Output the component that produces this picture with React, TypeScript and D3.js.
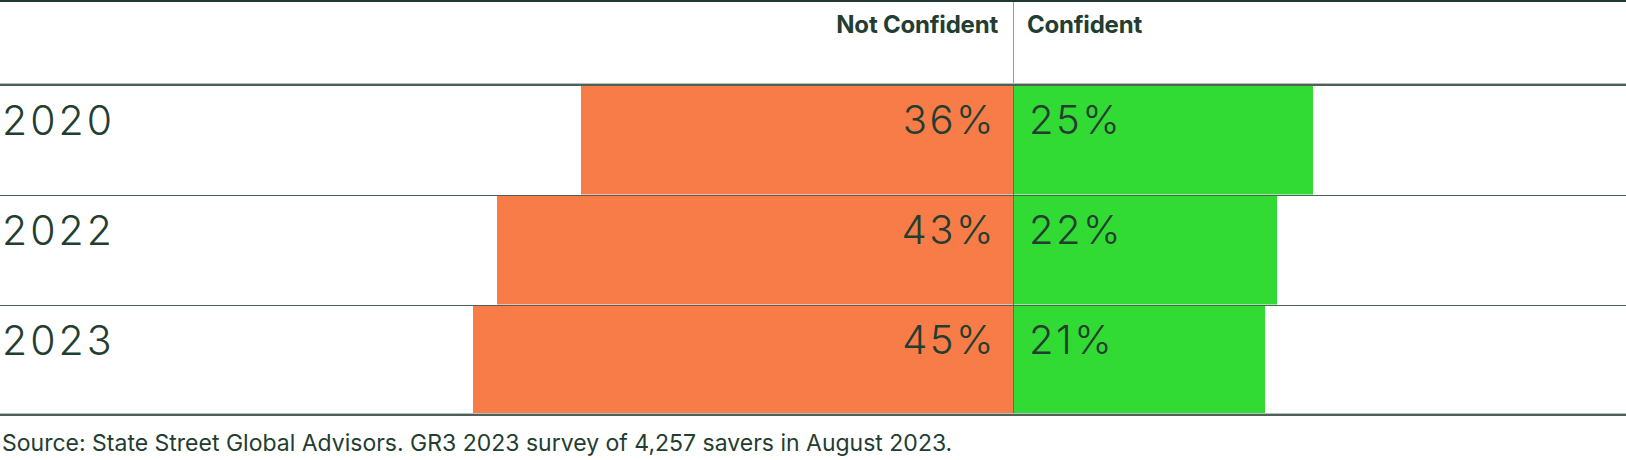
import React from "react";
import * as d3 from "d3";

const years = ["2020", "2022", "2023"];
const notConfident = [36, 43, 45];
const confident = [25, 22, 21];
const headers = ["Not Confident", "Confident"];
const source = "Source: State Street Global Advisors. GR3 2023 survey of 4,257 savers in August 2023.";

const W = 1626;
const H = 460;
const CX = 1013;
const TEXT = "#233d31";
const LINE = "#4d6159";
const ORANGE = "#f87c47";
const GREEN = "#32db33";
const FONT = "Inter, 'Liberation Sans', sans-serif";

export default function App() {
  const x = d3.scaleLinear().domain([0, 100]).range([0, 1200]);
  const y = d3.scaleBand<string>().domain(years).range([84.5, 414.5]).paddingInner(0);
  const bw = y.bandwidth();

  return (
    <svg
      width={W}
      height={H}
      style={{ position: "absolute", left: 0, top: 0, background: "#fff" }}
      fontFamily={FONT}
    >
      {/* top border */}
      <rect x={0} y={0} width={W} height={2} fill="#1f3a2e" />
      {/* header divider */}
      <line x1={CX + 0.5} x2={CX + 0.5} y1={2} y2={84} stroke="#9a9a9a" strokeWidth={1} />
      <text x={CX - 15} y={32.5} textAnchor="end" fontWeight={700} fontSize={24} letterSpacing={-0.2} fill={TEXT}>
        {headers[0]}
      </text>
      <text x={CX + 14} y={32.5} textAnchor="start" fontWeight={700} fontSize={24} letterSpacing={-0.2} fill={TEXT}>
        {headers[1]}
      </text>

      {/* bars */}
      {years.map((yr, i) => {
        const top = y(yr)!;
        return (
          <g key={yr}>
            <rect x={CX - x(notConfident[i])} y={top + 1} width={x(notConfident[i])} height={bw - 1} fill={ORANGE} />
            <rect x={CX} y={top + 1} width={x(confident[i])} height={bw - 1} fill={GREEN} />
            <text x={2} y={top + 50} fontSize={41} fontWeight={300} letterSpacing={3} fill={TEXT}>
              {yr}
            </text>
            <text x={CX - 17} y={top + 49} textAnchor="end" fontSize={40} fontWeight={300} letterSpacing={2.5} fill={TEXT}>
              {notConfident[i]}%
            </text>
            <text x={CX + 16} y={top + 49} textAnchor="start" fontSize={40} fontWeight={300} letterSpacing={2.5} fill={TEXT}>
              {confident[i]}%
            </text>
          </g>
        );
      })}

      {/* divider through bars */}
      <line x1={CX + 0.5} x2={CX + 0.5} y1={85} y2={414} stroke="#5f6e66" strokeWidth={1} />

      {/* header bottom double line */}
      <line x1={0} x2={W} y1={83.5} y2={83.5} stroke="#b8bdb9" strokeWidth={1} />
      <line x1={0} x2={W} y1={85} y2={85} stroke={LINE} strokeWidth={2} />
      {/* row separators */}
      {years.slice(1).map((yr) => (
        <line key={yr} x1={0} x2={W} y1={Math.round(y(yr)!) + 0.5} y2={Math.round(y(yr)!) + 0.5} stroke={LINE} strokeWidth={1} />
      ))}
      {/* bottom line */}
      <line x1={0} x2={W} y1={413.5} y2={413.5} stroke="#b8bdb9" strokeWidth={1} />
      <line x1={0} x2={W} y1={415} y2={415} stroke={LINE} strokeWidth={2} />

      <text x={2} y={451} fontSize={23} fontWeight={400} fill={TEXT}>
        {source}
      </text>
    </svg>
  );
}
